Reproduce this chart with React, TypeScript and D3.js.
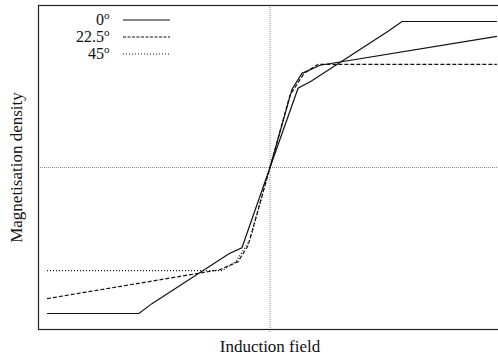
import React from "react";
import { scaleLinear, line } from "d3";

// induction field (x) and magnetisation density (y) for each angle
const field0 = [-0.961, -0.565, -0.509, -0.177, -0.121, 0, 0.121, 0.177, 0.509, 0.569, 0.978];
const mag0 = [-0.904, -0.904, -0.843, -0.534, -0.497, 0, 0.491, 0.534, 0.843, 0.904, 0.904];

const field22 = [-0.961, -0.216, -0.138, -0.095, 0, 0.095, 0.138, 0.216, 0.978];
const mag22 = [-0.812, -0.633, -0.583, -0.485, 0, 0.485, 0.583, 0.633, 0.812];

const field45 = [-0.961, -0.207, -0.147, -0.086, 0, 0.086, 0.147, 0.207, 0.978];
const mag45 = [-0.639, -0.639, -0.583, -0.448, 0, 0.448, 0.583, 0.639, 0.639];

const labels = ["0", "22.5", "45"];

const W = 498;
const H = 364;
const plot = { left: 38, right: 502, top: 5, bottom: 329 };

// dash styles: [negative branch, positive branch]
const dashes = [
  ["none", "none"],
  ["4,2", "none"],
  ["1,2", "4,2"],
];
const legendDash = ["none", "3,1.5", "1,2"];

export default function App() {
  const x = scaleLinear().domain([-1, 1]).range([plot.left, plot.right]);
  const y = scaleLinear().domain([-1, 1]).range([plot.bottom, plot.top + 1]);

  const series = [
    field0.map((f, i) => [f, mag0[i]]),
    field22.map((f, i) => [f, mag22[i]]),
    field45.map((f, i) => [f, mag45[i]]),
  ];

  const lineGen = line<number[]>()
    .x((d) => x(d[0]))
    .y((d) => y(d[1]));

  return (
    <svg
      width={W}
      height={H}
      style={{
        position: "absolute",
        left: 0,
        top: 0,
        background: "#fff",
        fontFamily: "'Liberation Serif', 'DejaVu Serif', serif",
      }}
    >
      {/* crosshair */}
      <line x1={x(0)} x2={x(0)} y1={plot.top} y2={plot.bottom + 3} stroke="#888" strokeDasharray="1,1" />
      <line x1={plot.left} x2={plot.right} y1={y(0)} y2={y(0)} stroke="#888" strokeDasharray="1,1" />

      {series.map((pts, i) => (
        <g key={i} fill="none" stroke="#111" strokeWidth={1.2}>
          <path d={lineGen(pts.filter((p) => p[0] <= 0)) || ""} strokeDasharray={dashes[i][0]} />
          <path d={lineGen(pts.filter((p) => p[0] >= 0)) || ""} strokeDasharray={dashes[i][1]} />
        </g>
      ))}

      {/* frame */}
      <rect
        x={plot.left + 0.5}
        y={plot.top + 0.5}
        width={plot.right - plot.left}
        height={plot.bottom - plot.top}
        fill="none"
        stroke="#222"
        strokeWidth={1.2}
      />

      {/* legend */}
      {labels.map((lab, i) => {
        const ly = 20 + i * 17;
        return (
          <g key={lab}>
            <text x={104} y={ly + 5} textAnchor="end" fontSize={16} fill="#111">
              {lab}
            </text>
            <text x={104} y={ly - 1} fontSize={11} fill="#111">
              o
            </text>
            <line x1={123} x2={170} y1={ly} y2={ly} stroke="#111" strokeWidth={1.1} strokeDasharray={legendDash[i]} />
          </g>
        );
      })}

      <text x={x(0)} y={352} textAnchor="middle" fontSize={17} fill="#111">
        Induction field
      </text>
      <text
        transform={`translate(22, ${y(0)}) rotate(-90)`}
        textAnchor="middle"
        fontSize={17}
        fill="#111"
      >
        Magnetisation density
      </text>
    </svg>
  );
}
